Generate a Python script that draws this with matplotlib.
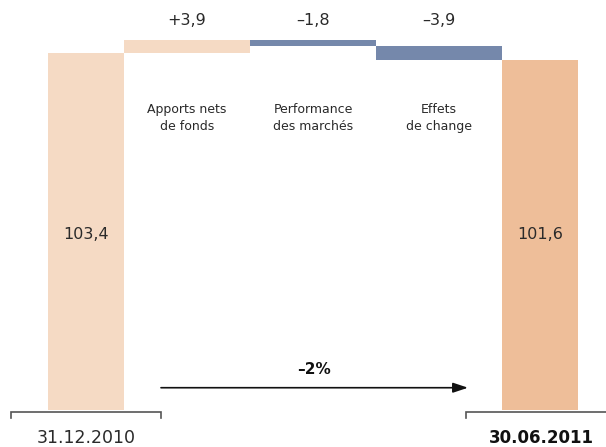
import matplotlib
matplotlib.use("Agg")
import matplotlib.pyplot as plt

# données (milliards)
start_label = "31.12.2010"
end_label = "30.06.2011"
start_value = 103.4
end_value = 101.6
steps = ["Apports nets\nde fonds", "Performance\ndes marchés", "Effets\nde change"]
step_values = [3.9, -1.8, -3.9]
change_text = "–2%"

plt.rcParams['font.family'] = ['DejaVu Sans']

light = '#F5DAC4'
blue = '#7588AB'
dark = '#EEBE99'
txt = '#2a2a2a'

fig = plt.figure(figsize=(6.06, 4.47), dpi=100)
ax = fig.add_axes([0, 0, 1, 1])
ax.set_xlim(0, 606)
ax.set_ylim(-10.8, 118.9)
ax.axis('off')

# barres de début et de fin
ax.bar(86, start_value, width=76, color=light)
ax.bar(540, end_value, width=76, color=dark)
ax.text(86, 50.8, f"{start_value:.1f}".replace('.', ','), ha='center', va='center',
        fontsize=11.5, color=txt)
ax.text(540, 50.8, f"{end_value:.1f}".replace('.', ','), ha='center', va='center',
        fontsize=11.5, color=txt)

# étapes flottantes
centers = [187, 313, 439]
level = start_value
for xc, v, name in zip(centers, step_values, steps):
    bottom = level if v > 0 else level + v
    col = light if v > 0 else blue
    ax.bar(xc, abs(v), bottom=bottom, width=126, color=col)
    level += v
    sign = '+' if v > 0 else '–'
    ax.text(xc, 113.0, sign + f"{abs(v):.1f}".replace('.', ','), ha='center', va='center',
            fontsize=11.5, color=txt)
    ax.text(xc, 84.6, name, ha='center', va='center', fontsize=9, color=txt,
            linespacing=1.4)

# crochets sous les dates
ax.plot([11, 11, 161, 161], [-2.4, -0.6, -0.6, -2.4], color='#555555', lw=1.2,
        solid_joinstyle='miter')
ax.plot([466, 466, 606], [-2.4, -0.6, -0.6], color='#555555', lw=1.2,
        solid_joinstyle='miter')
ax.text(86, -8.2, start_label, ha='center', va='center', fontsize=12.5, color=txt)
ax.text(541, -8.2, end_label, ha='center', va='center', fontsize=12, color='#111111',
        fontweight='bold')

# flèche de variation
ax.annotate('', xy=(468, 6.4), xytext=(161, 6.4),
            arrowprops=dict(arrowstyle='-|>,head_length=0.9,head_width=0.3',
                            color='#111111', lw=1.2, shrinkA=0, shrinkB=0))
ax.text(314, 11.6, change_text, ha='center', va='center', fontsize=11,
        fontweight='bold', color='#111111')

fig.savefig('out.png', dpi=100)
